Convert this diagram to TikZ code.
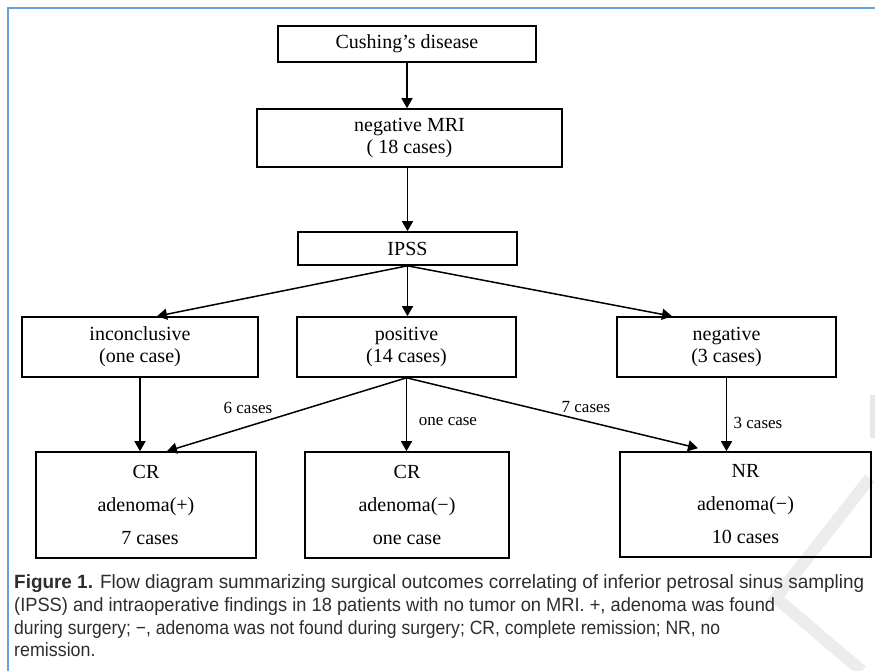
\documentclass[tikz,border=0pt]{standalone}
\usepackage{fontspec}
\usepackage{graphicx}
\usetikzlibrary{arrows.meta,calc}
\setmainfont{Liberation Serif}
\newfontfamily\capfont{Liberation Sans}
\definecolor{frameblue}{RGB}{100,160,222}
\definecolor{capgray}{RGB}{45,45,45}
\definecolor{wmark}{RGB}{236,236,236}
\tikzset{
  flowbox/.style={draw=black,line width=1.6pt,inner sep=0pt,align=center,
    font=\fontsize{20}{22}\selectfont},
  tallbox/.style={flowbox,font=\fontsize{20}{33}\selectfont},
  flowarrow/.style={line width=1.5pt,-{Triangle[length=10pt,width=11pt]}},
  edgelabel/.style={inner sep=0pt,font=\fontsize{17}{18}\selectfont},
  capline/.style={anchor=base west,inner sep=0pt,text=capgray,
    font=\capfont\fontsize{19.2}{22.7}\selectfont}
}
\begin{document}
\begin{tikzpicture}[x=1pt,y=-1pt]
\useasboundingbox (0,0) rectangle (875,671);
% watermark
\draw[wmark,line width=12pt,line cap=butt] (870,478) -- (776,598) -- (862,671);
\fill[gray!18] (870,395) rectangle (875,438);
% frame
\draw[frameblue,line width=2pt] (8,671) -- (8,8) -- (875,8);
% boxes
\node[flowbox,minimum width=258pt,minimum height=36pt] (cush) at (407,44) {Cushing’s disease};
\node[flowbox,minimum width=305pt,minimum height=58pt] (mri) at (409.5,138) {negative MRI\\( 18 cases)};
\node[flowbox,minimum width=219pt,minimum height=33pt] (ipss) at (407.5,248.5) {IPSS};
\node[flowbox,minimum width=236pt,minimum height=60pt] (incl) at (140,347) {inconclusive\\(one case)};
\node[flowbox,minimum width=219pt,minimum height=60pt] (pos) at (406.5,347) {positive\\(14 cases)};
\node[flowbox,minimum width=219pt,minimum height=60pt] (neg) at (726.5,347) {negative\\(3 cases)};
\node[tallbox,minimum width=220pt,minimum height=106pt] (cra) at (146,505)
  {CR\\adenoma(+)\\\hspace*{8pt}7 cases};
\node[tallbox,minimum width=204pt,minimum height=106pt] (crb) at (407,505)
  {CR\\adenoma(\char"2212)\\one case};
\node[tallbox,minimum width=251pt,minimum height=105pt] (nr) at (745.5,504.5)
  {NR\\adenoma(\char"2212)\\10 cases};
% arrows
\draw[flowarrow] (cush.south) -- (cush.south |- mri.north);
\draw[flowarrow] (mri.south -| ipss.north) -- (ipss.north);
\draw[flowarrow] (ipss.south) -- ($(incl.north)+(17,0)$);
\draw[flowarrow] (ipss.south) -- (ipss.south |- pos.north);
\draw[flowarrow] (ipss.south) -- ($(neg.north)+(-54.5,0)$);
\draw[flowarrow] (incl.south) -- (incl.south |- cra.north);
\draw[flowarrow] (pos.south) -- ($(cra.north)+(21,0)$);
\draw[flowarrow] (pos.south) -- (pos.south |- crb.north);
\draw[flowarrow] (pos.south) -- ($(nr.north)+(-47.5,-3)$);
\draw[flowarrow] (neg.south) -- (neg.south |- nr.north);
% edge labels
\node[edgelabel] (l6) at (248,408) {6 cases};
\node[edgelabel] (l1) at (448,422) {one case};
\node[edgelabel] (l7) at (586,407) {7 cases};
\node[edgelabel] (l3) at (758,423) {3 cases};
% caption
\node[capline] (c1) at (14,588) {\resizebox{850pt}{\height}{\textbf{Figure 1.} Flow diagram summarizing surgical outcomes correlating of inferior petrosal sinus sampling}};
\node[capline] (c2) at (14,611) {\resizebox{761pt}{\height}{(IPSS) and intraoperative findings in 18 patients with no tumor on MRI. +, adenoma was found}};
\node[capline] (c3) at (14,634) {\resizebox{706pt}{\height}{during surgery; \char"2212, adenoma was not found during surgery; CR, complete remission; NR, no}};
\node[capline] (c4) at (14,656) {\scalebox{0.93}[1]{remission.}};
\end{tikzpicture}
\end{document}
